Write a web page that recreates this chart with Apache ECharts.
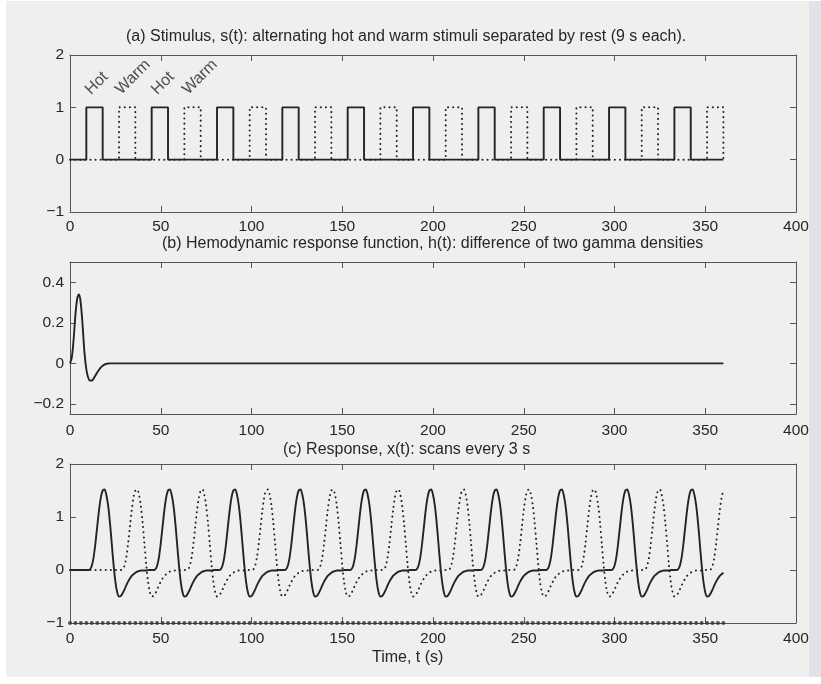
<!DOCTYPE html>
<html><head><meta charset="utf-8">
<script src="https://cdn.jsdelivr.net/npm/echarts@6/dist/echarts.min.js"></script>
<style>html,body{margin:0;padding:0;background:#fff;}#c{width:821px;height:684px;}</style>
</head><body><div id="c"></div>
<script>
// ---------- data ----------
const xTicks = [0, 50, 100, 150, 200, 250, 300, 350, 400];
const stimYTicks = [-1, 0, 1, 2];
const hrfYTicks = [-0.2, 0, 0.2, 0.4];
const respYTicks = [-1, 0, 1, 2];

const hotOnsets  = [9, 45, 81, 117, 153, 189, 225, 261, 297, 333];
const warmOnsets = [27, 63, 99, 135, 171, 207, 243, 279, 315, 351];
const blockDuration = 9;
const stimEnd = 360;

const annotationTexts = ['Hot', 'Warm', 'Hot', 'Warm'];
const annotationT = [14.7, 34.7, 51.2, 71.6];
const annotationY = [1.46, 1.58, 1.46, 1.58];

const hrfTimes  = [0,1,2,3,4,5,6,7,8,9,10,11,12,13,14,15,16,17,18,19,20,21,22,360];
const hrfValues = [0,0.03,0.12,0.24,0.32,0.34,0.29,0.18,0.05,-0.03,-0.07,-0.085,-0.085,-0.075,-0.06,-0.045,-0.032,-0.02,-0.012,-0.006,-0.003,-0.001,0,0];

const responseStep = 1; // seconds between response samples, starting at t = 0
const hotResponse = [
0,0,0,0,0,0,0,0,0,0,
0,0.01,0.08,0.24,0.5,0.82,1.13,1.37,1.5,1.52,1.42,1.22,0.9,0.5,0.1,-0.22,-0.42,-0.5,-0.49,-0.44,-0.37,-0.29,-0.22,-0.16,-0.11,-0.08,-0.05,-0.03,-0.02,-0.01,-0.01,-0.01,-0.01,0,0,0,
0,0.01,0.08,0.24,0.5,0.82,1.13,1.37,1.5,1.52,1.42,1.22,0.9,0.5,0.1,-0.22,-0.42,-0.5,-0.49,-0.44,-0.37,-0.29,-0.22,-0.16,-0.11,-0.08,-0.05,-0.03,-0.02,-0.01,-0.01,-0.01,-0.01,0,0,0,
0,0.01,0.08,0.24,0.5,0.82,1.13,1.37,1.5,1.52,1.42,1.22,0.9,0.5,0.1,-0.22,-0.42,-0.5,-0.49,-0.44,-0.37,-0.29,-0.22,-0.16,-0.11,-0.08,-0.05,-0.03,-0.02,-0.01,-0.01,-0.01,-0.01,0,0,0,
0,0.01,0.08,0.24,0.5,0.82,1.13,1.37,1.5,1.52,1.42,1.22,0.9,0.5,0.1,-0.22,-0.42,-0.5,-0.49,-0.44,-0.37,-0.29,-0.22,-0.16,-0.11,-0.08,-0.05,-0.03,-0.02,-0.01,-0.01,-0.01,-0.01,0,0,0,
0,0.01,0.08,0.24,0.5,0.82,1.13,1.37,1.5,1.52,1.42,1.22,0.9,0.5,0.1,-0.22,-0.42,-0.5,-0.49,-0.44,-0.37,-0.29,-0.22,-0.16,-0.11,-0.08,-0.05,-0.03,-0.02,-0.01,-0.01,-0.01,-0.01,0,0,0,
0,0.01,0.08,0.24,0.5,0.82,1.13,1.37,1.5,1.52,1.42,1.22,0.9,0.5,0.1,-0.22,-0.42,-0.5,-0.49,-0.44,-0.37,-0.29,-0.22,-0.16,-0.11,-0.08,-0.05,-0.03,-0.02,-0.01,-0.01,-0.01,-0.01,0,0,0,
0,0.01,0.08,0.24,0.5,0.82,1.13,1.37,1.5,1.52,1.42,1.22,0.9,0.5,0.1,-0.22,-0.42,-0.5,-0.49,-0.44,-0.37,-0.29,-0.22,-0.16,-0.11,-0.08,-0.05,-0.03,-0.02,-0.01,-0.01,-0.01,-0.01,0,0,0,
0,0.01,0.08,0.24,0.5,0.82,1.13,1.37,1.5,1.52,1.42,1.22,0.9,0.5,0.1,-0.22,-0.42,-0.5,-0.49,-0.44,-0.37,-0.29,-0.22,-0.16,-0.11,-0.08,-0.05,-0.03,-0.02,-0.01,-0.01,-0.01,-0.01,0,0,0,
0,0.01,0.08,0.24,0.5,0.82,1.13,1.37,1.5,1.52,1.42,1.22,0.9,0.5,0.1,-0.22,-0.42,-0.5,-0.49,-0.44,-0.37,-0.29,-0.22,-0.16,-0.11,-0.08,-0.05,-0.03,-0.02,-0.01,-0.01,-0.01,-0.01,0,0,0,
0,0.01,0.08,0.24,0.5,0.82,1.13,1.37,1.5,1.52,1.42,1.22,0.9,0.5,0.1,-0.22,-0.42,-0.5,-0.49,-0.44,-0.37,-0.29,-0.22,-0.16,-0.11,-0.08,-0.05
];
const warmResponse = [
0,0,0,0,0,0,0,0,0,0,
0,0,0,0,0,0,0,0,0,0,
0,0,0,0,0,0,0,0,
0,0.01,0.08,0.24,0.5,0.82,1.13,1.37,1.5,1.52,1.42,1.22,0.9,0.5,0.1,-0.22,-0.42,-0.5,-0.49,-0.44,-0.37,-0.29,-0.22,-0.16,-0.11,-0.08,-0.05,-0.03,-0.02,-0.01,-0.01,-0.01,-0.01,0,0,0,
0,0.01,0.08,0.24,0.5,0.82,1.13,1.37,1.5,1.52,1.42,1.22,0.9,0.5,0.1,-0.22,-0.42,-0.5,-0.49,-0.44,-0.37,-0.29,-0.22,-0.16,-0.11,-0.08,-0.05,-0.03,-0.02,-0.01,-0.01,-0.01,-0.01,0,0,0,
0,0.01,0.08,0.24,0.5,0.82,1.13,1.37,1.5,1.52,1.42,1.22,0.9,0.5,0.1,-0.22,-0.42,-0.5,-0.49,-0.44,-0.37,-0.29,-0.22,-0.16,-0.11,-0.08,-0.05,-0.03,-0.02,-0.01,-0.01,-0.01,-0.01,0,0,0,
0,0.01,0.08,0.24,0.5,0.82,1.13,1.37,1.5,1.52,1.42,1.22,0.9,0.5,0.1,-0.22,-0.42,-0.5,-0.49,-0.44,-0.37,-0.29,-0.22,-0.16,-0.11,-0.08,-0.05,-0.03,-0.02,-0.01,-0.01,-0.01,-0.01,0,0,0,
0,0.01,0.08,0.24,0.5,0.82,1.13,1.37,1.5,1.52,1.42,1.22,0.9,0.5,0.1,-0.22,-0.42,-0.5,-0.49,-0.44,-0.37,-0.29,-0.22,-0.16,-0.11,-0.08,-0.05,-0.03,-0.02,-0.01,-0.01,-0.01,-0.01,0,0,0,
0,0.01,0.08,0.24,0.5,0.82,1.13,1.37,1.5,1.52,1.42,1.22,0.9,0.5,0.1,-0.22,-0.42,-0.5,-0.49,-0.44,-0.37,-0.29,-0.22,-0.16,-0.11,-0.08,-0.05,-0.03,-0.02,-0.01,-0.01,-0.01,-0.01,0,0,0,
0,0.01,0.08,0.24,0.5,0.82,1.13,1.37,1.5,1.52,1.42,1.22,0.9,0.5,0.1,-0.22,-0.42,-0.5,-0.49,-0.44,-0.37,-0.29,-0.22,-0.16,-0.11,-0.08,-0.05,-0.03,-0.02,-0.01,-0.01,-0.01,-0.01,0,0,0,
0,0.01,0.08,0.24,0.5,0.82,1.13,1.37,1.5,1.52,1.42,1.22,0.9,0.5,0.1,-0.22,-0.42,-0.5,-0.49,-0.44,-0.37,-0.29,-0.22,-0.16,-0.11,-0.08,-0.05,-0.03,-0.02,-0.01,-0.01,-0.01,-0.01,0,0,0,
0,0.01,0.08,0.24,0.5,0.82,1.13,1.37,1.5,1.52,1.42,1.22,0.9,0.5,0.1,-0.22,-0.42,-0.5,-0.49,-0.44,-0.37,-0.29,-0.22,-0.16,-0.11,-0.08,-0.05,-0.03,-0.02,-0.01,-0.01,-0.01,-0.01,0,0,0,
0,0.01,0.08,0.24,0.5,0.82,1.13,1.37,1.5
];
const scanTimes = [0,3,6,9,12,15,18,21,24,27,30,33,36,39,42,45,48,51,54,57,60,63,66,69,72,75,78,81,84,87,90,93,96,99,102,105,108,111,114,117,120,123,126,129,132,135,138,141,144,147,150,153,156,159,162,165,168,171,174,177,180,183,186,189,192,195,198,201,204,207,210,213,216,219,222,225,228,231,234,237,240,243,246,249,252,255,258,261,264,267,270,273,276,279,282,285,288,291,294,297,300,303,306,309,312,315,318,321,324,327,330,333,336,339,342,345,348,351,354,357,360];
const scanLevel = -1;

const titleA = '(a) Stimulus, s(t): alternating hot and warm stimuli separated by rest (9 s each).';
const titleB = '(b) Hemodynamic response function, h(t): difference of two gamma densities';
const titleC = '(c) Response, x(t): scans every 3 s';
const xLabel = 'Time, t (s)';

// ---------- build ----------
function squareWave(onsets) {
  const pts = [[0, 0]];
  onsets.forEach(on => { pts.push([on, 0], [on, 1], [on + blockDuration, 1], [on + blockDuration, 0]); });
  pts.push([stimEnd, 0]);
  return pts;
}
const toPairs = arr => arr.map((v, i) => [i * responseStep, v]);

const FONT = 'Liberation Sans, Arial, Helvetica, sans-serif';
const AX = '#555';
const INK = '#242424';
const TXT = '#262626';
const TICK_FS = 15.5;
const fmt = v => String(v).replace('-', '\u2212');

const grids = [
  {left: 70, right: 25, top: 55, height: 157},
  {left: 70, right: 25, top: 262, height: 152},
  {left: 70, right: 25, top: 464, height: 159}
];
const yCfg = [
  {min: -1, max: 2, ticks: stimYTicks},
  {min: -0.25, max: 0.5, ticks: hrfYTicks},
  {min: -1, max: 2, ticks: respYTicks}
];
const labelMargins = [7, 9, 8];

const xAxis = [], yAxis = [];
grids.forEach((g, i) => {
  xAxis.push({
    type: 'value', gridIndex: i, min: xTicks[0], max: xTicks[xTicks.length - 1], interval: 50, position: 'bottom',
    axisLine: {show: true, onZero: false, lineStyle: {color: AX, width: 1}},
    axisTick: {show: true, inside: true, length: 6, lineStyle: {color: AX}},
    axisLabel: {show: true, color: TXT, fontFamily: FONT, fontSize: TICK_FS, margin: labelMargins[i]},
    splitLine: {show: false}
  });
  xAxis.push({
    type: 'value', gridIndex: i, min: xTicks[0], max: xTicks[xTicks.length - 1], interval: 50, position: 'top',
    axisLine: {show: true, onZero: false, lineStyle: {color: AX, width: 1}},
    axisTick: {show: true, inside: true, length: 6, lineStyle: {color: AX}},
    axisLabel: {show: false}, splitLine: {show: false}
  });
  const yc = yCfg[i];
  yAxis.push({
    type: 'value', gridIndex: i, min: yc.min, max: yc.max, position: 'left',
    axisLine: {show: true, onZero: false, lineStyle: {color: AX, width: 1}},
    axisTick: {show: true, inside: true, length: 6, lineStyle: {color: AX}, customValues: yc.ticks},
    axisLabel: {show: true, color: TXT, fontFamily: FONT, fontSize: TICK_FS, margin: 6, customValues: yc.ticks, formatter: fmt},
    splitLine: {show: false}
  });
  yAxis.push({
    type: 'value', gridIndex: i, min: yc.min, max: yc.max, position: 'right',
    axisLine: {show: true, onZero: false, lineStyle: {color: AX, width: 1}},
    axisTick: {show: true, inside: true, length: 6, lineStyle: {color: AX}, customValues: yc.ticks},
    axisLabel: {show: false}, splitLine: {show: false}
  });
});

const dotted = {color: INK, width: 2, type: [0.1, 5], cap: 'round'};
const solid = {color: INK, width: 1.9};

const series = [
  {type: 'line', xAxisIndex: 0, yAxisIndex: 0, data: squareWave(warmOnsets), symbol: 'none', lineStyle: dotted, z: 2, silent: true},
  {type: 'line', xAxisIndex: 0, yAxisIndex: 0, data: squareWave(hotOnsets), symbol: 'none', lineStyle: solid, z: 3, silent: true},
  {type: 'scatter', xAxisIndex: 0, yAxisIndex: 0, symbolSize: 0, silent: true,
   data: annotationTexts.map((t, i) => ({value: [annotationT[i], annotationY[i]], name: t})),
   label: {show: true, position: 'inside', rotate: 45, formatter: p => p.name, color: TXT, fontFamily: FONT, fontSize: 16}},
  {type: 'line', xAxisIndex: 2, yAxisIndex: 2, data: hrfTimes.map((t, i) => [t, hrfValues[i]]), symbol: 'none', smooth: 0.35, lineStyle: solid, silent: true},
  {type: 'line', xAxisIndex: 4, yAxisIndex: 4, data: toPairs(warmResponse), symbol: 'none', smooth: 0.3, lineStyle: dotted, z: 2, silent: true},
  {type: 'line', xAxisIndex: 4, yAxisIndex: 4, data: toPairs(hotResponse), symbol: 'none', smooth: 0.3, lineStyle: solid, z: 3, silent: true},
  {type: 'scatter', xAxisIndex: 4, yAxisIndex: 4, data: scanTimes.map(t => [t, scanLevel]), symbol: 'circle', symbolSize: 4, itemStyle: {color: '#2e2e2e'}, z: 4, silent: true}
];

const textEl = (txt, x, y) => ({type: 'text', x: x, y: y, z: 10,
  style: {text: txt, font: '16px ' + FONT, fill: TXT, align: 'left', verticalAlign: 'middle'}});

const option = {
  animation: false,
  backgroundColor: '#ffffff',
  grid: grids,
  xAxis: xAxis,
  yAxis: yAxis,
  series: series,
  graphic: [
    {type: 'rect', shape: {x: 6, y: 1, width: 803, height: 676}, style: {fill: '#efefed'}, z: -10, silent: true},
    {type: 'rect', shape: {x: 809, y: 1, width: 12, height: 676}, style: {fill: '#dfe2e7'}, z: -10, silent: true},
    textEl(titleA, 126, 37),
    textEl(titleB, 162, 244),
    textEl(titleC, 283, 450),
    textEl(xLabel, 372, 658)
  ]
};
const chart = echarts.init(document.getElementById('c'), null, {renderer: 'canvas'});
chart.setOption(option);
</script></body></html>
